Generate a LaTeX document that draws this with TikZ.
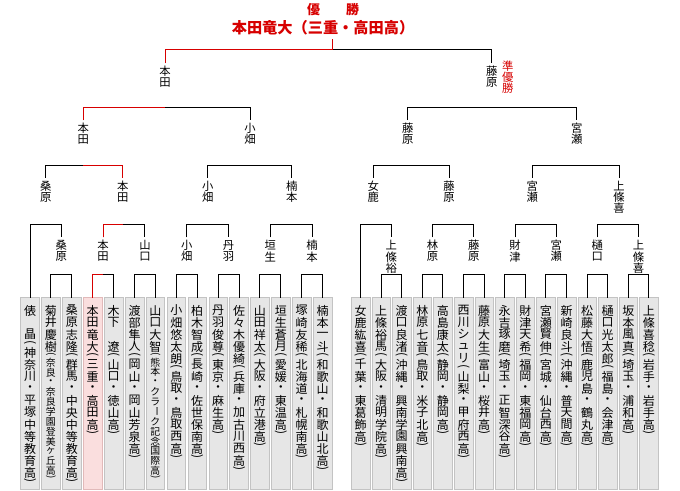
\documentclass[tikz,border=0pt]{standalone}
\usepackage{fontspec}
\usepackage{graphicx}
\usepackage{tikz}
\usetikzlibrary{positioning,calc}

\newfontfamily\jpfont{Noto Sans CJK JP}

\definecolor{winred}{RGB}{215,0,0}
\definecolor{boxfill}{RGB}{230,230,230}
\definecolor{boxline}{RGB}{195,195,195}
\definecolor{pinkfill}{RGB}{250,222,222}
\definecolor{pinkline}{RGB}{225,185,185}

\ExplSyntaxOn
\dim_new:N \l_tate_wd_dim
\dim_set:Nn \l_tate_wd_dim {12pt}
\cs_new_protected:Npn \tate_cell:nn #1#2
  {
    \hbox_to_wd:nn { \l_tate_wd_dim }
      { \hss \vbox_to_ht:nn {#1} { \vss \hbox:n {#2} \vss } \hss }
  }
\cs_new_protected:Npn \tate_char:n #1
  {
    \str_case:nnF {#1}
      {
        { ( } { \tate_cell:nn { .5em } { \rotatebox[origin=c]{-90}{(} } }
        { ) } { \tate_cell:nn { .5em } { \rotatebox[origin=c]{-90}{)} } }
        { ー } { \tate_cell:nn { 1em } { \rotatebox[origin=c]{-90}{ー} } }
      }
      { \tate_cell:nn { 1em } {#1} }
  }
\NewDocumentCommand \tate { m }
  { \tl_map_function:nN {#1} \tate_char:n }
\ExplSyntaxOff

\newcommand\vlab[1]{\vbox{\offinterlineskip\tate{#1}}}
\newcommand\player[2]{\vbox to 133pt{\offinterlineskip\tate{#1}\tate{#2}\vss}}
\newcommand\playersm[2]{\vbox to 133pt{\offinterlineskip\tate{#1}{\fontsize{7.4}{7.4}\selectfont\tate{#2}}\vss}}

\tikzset{
  pbox/.style={draw=boxline, fill=boxfill, anchor=north, minimum width=14pt, inner xsep=0pt, inner ysep=5.25pt, outer sep=0pt, font=\jpfont\fontsize{9}{9}\selectfont},
  winbox/.style={pbox, draw=pinkline, fill=pinkfill},
  lab/.style={anchor=north, inner sep=0pt, outer sep=1.8pt, font=\jpfont\fontsize{8.5}{8.5}\selectfont},
  bline/.style={line width=0.75pt},
  win/.style={line width=0.75pt, draw=winred}
}

\begin{document}
\begin{tikzpicture}[x=0.75pt, y=-0.75pt]
    \path[use as bounding box, fill=white] (0,0) rectangle (680,490);

    \node (title) [font=\jpfont\bfseries\fontsize{9.75}{9.75}\selectfont, text=winred] at (333,9.5) {優\quad\quad 勝};
    \node (champ) [font=\jpfont\bfseries\fontsize{11.4}{11.4}\selectfont, text=winred] at (323,28) {本田竜大（三重・高田高）};
    \coordinate (finTop) at (332.3,39.3);

    \coordinate (L1) at (0,274.3);
    \coordinate (L2) at (0,224.3);
    \coordinate (L3) at (0,165.3);
    \coordinate (L4) at (0,107.3);
    \coordinate (L5) at (0,49.3);

    % left half
    \node (tawara) [pbox] at (30,297.5) {\player{俵\quad 晶}{(神奈川・平塚中等教育高)}};
    \node (kikui) [pbox, right=1.675pt of tawara] {\playersm{菊井慶樹}{(奈良・奈良学園登美ヶ丘高)}};
    \node (kuwahara) [pbox, right=1.675pt of kikui] {\player{桑原志隆}{(群馬・中央中等教育高)}};
    \node (honda) [winbox, right=1.675pt of kuwahara] {\player{本田竜大}{(三重・高田高)}};
    \node (kinoshita) [pbox, right=1.675pt of honda] {\player{木下\quad 遼}{(山口・徳山高)}};
    \node (watanabe) [pbox, right=1.675pt of kinoshita] {\player{渡部隼人}{(岡山・岡山芳泉高)}};
    \node (yamaguchi) [pbox, right=1.675pt of watanabe] {\playersm{山口大智}{(熊本・クラーク記念国際高)}};
    \node (obata) [pbox, right=1.675pt of yamaguchi] {\player{小畑悠太朗}{(鳥取・鳥取西高)}};
    \node (kashiwagi) [pbox, right=1.675pt of obata] {\player{柏木智成}{(長崎・佐世保南高)}};
    \node (niwa) [pbox, right=1.675pt of kashiwagi] {\player{丹羽俊尊}{(東京・麻生高)}};
    \node (sasaki) [pbox, right=1.675pt of niwa] {\player{佐々木優綺}{(兵庫・加古川西高)}};
    \node (yamada) [pbox, right=1.675pt of sasaki] {\player{山田祥太}{(大阪・府立港高)}};
    \node (hanyu) [pbox, right=1.675pt of yamada] {\player{垣生蒼月}{(愛媛・東温高)}};
    \node (tsukazaki) [pbox, right=1.675pt of hanyu] {\player{塚崎友稀}{(北海道・札幌南高)}};
    \node (kusumoto) [pbox, right=1.675pt of tsukazaki] {\player{楠本一斗}{(和歌山・和歌山北高)}};

    % right half
    \node (meka) [pbox] at (360.5,297.5) {\player{女鹿紘喜}{(千葉・東葛飾高)}};
    \node (kamijoy) [pbox, right=1.45pt of meka] {\player{上條裕馬}{(大阪・清明学院高)}};
    \node (toguchi) [pbox, right=1.45pt of kamijoy] {\player{渡口良渚}{(沖縄・興南学園興南高)}};
    \node (hayashibara) [pbox, right=1.45pt of toguchi] {\player{林原七音}{(鳥取・米子北高)}};
    \node (takashima) [pbox, right=1.45pt of hayashibara] {\player{高島康太}{(静岡・静岡高)}};
    \node (nishikawa) [pbox, right=1.45pt of takashima] {\player{西川シュリ}{(山梨・甲府西高)}};
    \node (fujiwara) [pbox, right=1.45pt of nishikawa] {\player{藤原大生}{(富山・桜井高)}};
    \node (nagayoshi) [pbox, right=1.45pt of fujiwara] {\player{永吉琢磨}{(埼玉・正智深谷高)}};
    \node (zaitsu) [pbox, right=1.45pt of nagayoshi] {\player{財津天希}{(福岡・東福岡高)}};
    \node (miyase) [pbox, right=1.45pt of zaitsu] {\player{宮瀬賢伸}{(宮城・仙台西高)}};
    \node (arasaki) [pbox, right=1.45pt of miyase] {\player{新崎良斗}{(沖縄・普天間高)}};
    \node (matsufuji) [pbox, right=1.45pt of arasaki] {\player{松藤大悟}{(鹿児島・鶴丸高)}};
    \node (higuchi) [pbox, right=1.45pt of matsufuji] {\player{樋口光太郎}{(福島・会津高)}};
    \node (sakamoto) [pbox, right=1.45pt of higuchi] {\player{坂本風真}{(埼玉・浦和高)}};
    \node (kamijok) [pbox, right=1.45pt of sakamoto] {\player{上條喜稔}{(岩手・岩手高)}};

    % winners of each round
    \node (kuwahara1) [lab] at ($(kikui.north)!.5!(kuwahara.north)+(0,-60.2)$) {\vlab{桑原}};
    \node (honda1) [lab] at ($(honda.north)!.5!(kinoshita.north)+(0,-60.2)$) {\vlab{本田}};
    \node (yamaguchi1) [lab] at ($(watanabe.north)!.5!(yamaguchi.north)+(0,-60.2)$) {\vlab{山口}};
    \node (obata1) [lab] at ($(obata.north)!.5!(kashiwagi.north)+(0,-60.2)$) {\vlab{小畑}};
    \node (niwa1) [lab] at ($(niwa.north)!.5!(sasaki.north)+(0,-60.2)$) {\vlab{丹羽}};
    \node (hanyu1) [lab] at ($(yamada.north)!.5!(hanyu.north)+(0,-60.2)$) {\vlab{垣生}};
    \node (kusumoto1) [lab] at ($(tsukazaki.north)!.5!(kusumoto.north)+(0,-60.2)$) {\vlab{楠本}};
    \node (kamijoy1) [lab] at ($(kamijoy.north)!.5!(toguchi.north)+(0,-60.2)$) {\vlab{上條裕}};
    \node (hayashibara1) [lab] at ($(hayashibara.north)!.5!(takashima.north)+(0,-60.2)$) {\vlab{林原}};
    \node (fujiwara1) [lab] at ($(nishikawa.north)!.5!(fujiwara.north)+(0,-60.2)$) {\vlab{藤原}};
    \node (zaitsu1) [lab] at ($(nagayoshi.north)!.5!(zaitsu.north)+(0,-60.2)$) {\vlab{財津}};
    \node (miyase1) [lab] at ($(miyase.north)!.5!(arasaki.north)+(0,-60.2)$) {\vlab{宮瀬}};
    \node (higuchi1) [lab] at ($(matsufuji.north)!.5!(higuchi.north)+(0,-60.2)$) {\vlab{樋口}};
    \node (kamijok1) [lab] at ($(sakamoto.north)!.5!(kamijok.north)+(0,-60.2)$) {\vlab{上條喜}};

    \node (kuwahara2) [lab] at (45.7,177.8) {\vlab{桑原}};
    \node (honda2) [lab] at (122.7,177.8) {\vlab{本田}};
    \node (obata2) [lab] at (207.7,177.8) {\vlab{小畑}};
    \node (kusumoto2) [lab] at (291.7,177.8) {\vlab{楠本}};
    \node (meka2) [lab] at (373.3,177.8) {\vlab{女鹿}};
    \node (fujiwara2) [lab] at (449,177.8) {\vlab{藤原}};
    \node (miyase2) [lab] at (532.3,177.8) {\vlab{宮瀬}};
    \node (kamijok2) [lab] at (619,177.8) {\vlab{上條喜}};

    \node (honda3) [lab] at (83.3,120.2) {\vlab{本田}};
    \node (obata3) [lab] at (250,120.2) {\vlab{小畑}};
    \node (fujiwara3) [lab] at (407.7,120.2) {\vlab{藤原}};
    \node (miyase3) [lab] at (576.7,120.2) {\vlab{宮瀬}};

    \node (honda4) [lab] at (165,63) {\vlab{本田}};
    \node (fujiwara4) [lab] at (491.7,63) {\vlab{藤原}};
    \node (runner) [lab, text=winred] at (507.7,57.8) {\vlab{準優勝}};

    % brackets
    \draw[bline] (kikui.north) -- (kikui.north |- L1) -| (kuwahara.north);
    \draw[bline] (honda.north) -- (honda.north |- L1) -| (kinoshita.north);
    \draw[bline] (watanabe.north) -- (watanabe.north |- L1) -| (yamaguchi.north);
    \draw[bline] (obata.north) -- (obata.north |- L1) -| (kashiwagi.north);
    \draw[bline] (niwa.north) -- (niwa.north |- L1) -| (sasaki.north);
    \draw[bline] (yamada.north) -- (yamada.north |- L1) -| (hanyu.north);
    \draw[bline] (tsukazaki.north) -- (tsukazaki.north |- L1) -| (kusumoto.north);
    \draw[bline] (kamijoy.north) -- (kamijoy.north |- L1) -| (toguchi.north);
    \draw[bline] (hayashibara.north) -- (hayashibara.north |- L1) -| (takashima.north);
    \draw[bline] (nishikawa.north) -- (nishikawa.north |- L1) -| (fujiwara.north);
    \draw[bline] (nagayoshi.north) -- (nagayoshi.north |- L1) -| (zaitsu.north);
    \draw[bline] (miyase.north) -- (miyase.north |- L1) -| (arasaki.north);
    \draw[bline] (matsufuji.north) -- (matsufuji.north |- L1) -| (higuchi.north);
    \draw[bline] (sakamoto.north) -- (sakamoto.north |- L1) -| (kamijok.north);

    \draw[bline] (tawara.north) -- (tawara.north |- L2) -| (kuwahara1.north);
    \draw[bline] (honda1.north) -- (honda1.north |- L2) -| (yamaguchi1.north);
    \draw[bline] (obata1.north) -- (obata1.north |- L2) -| (niwa1.north);
    \draw[bline] (hanyu1.north) -- (hanyu1.north |- L2) -| (kusumoto1.north);
    \draw[bline] (meka.north) -- (meka.north |- L2) -| (kamijoy1.north);
    \draw[bline] (hayashibara1.north) -- (hayashibara1.north |- L2) -| (fujiwara1.north);
    \draw[bline] (zaitsu1.north) -- (zaitsu1.north |- L2) -| (miyase1.north);
    \draw[bline] (higuchi1.north) -- (higuchi1.north |- L2) -| (kamijok1.north);

    \draw[bline] (kuwahara2.north) -- (kuwahara2.north |- L3) -| (honda2.north);
    \draw[bline] (obata2.north) -- (obata2.north |- L3) -| (kusumoto2.north);
    \draw[bline] (meka2.north) -- (meka2.north |- L3) -| (fujiwara2.north);
    \draw[bline] (miyase2.north) -- (miyase2.north |- L3) -| (kamijok2.north);

    \draw[bline] (honda3.north) -- (honda3.north |- L4) -| (obata3.north);
    \draw[bline] (fujiwara3.north) -- (fujiwara3.north |- L4) -| (miyase3.north);

    \draw[bline] (honda4.north) -- (honda4.north |- L5) -| (fujiwara4.north);

    % path of the champion
    \draw[win] (honda.north) -- (honda.north |- L1) -- (honda1 |- L1);
    \draw[win] (honda1.north) -- (honda1.north |- L2) -- (honda2 |- L2);
    \draw[win] (honda2.north) -- (honda2.north |- L3) -- (honda3 |- L3);
    \draw[win] (honda3.north) -- (honda3.north |- L4) -- (honda4 |- L4);
    \draw[win] (honda4.north) -- (honda4.north |- L5) -- (finTop |- L5) -- (finTop);
\end{tikzpicture}
\end{document}
